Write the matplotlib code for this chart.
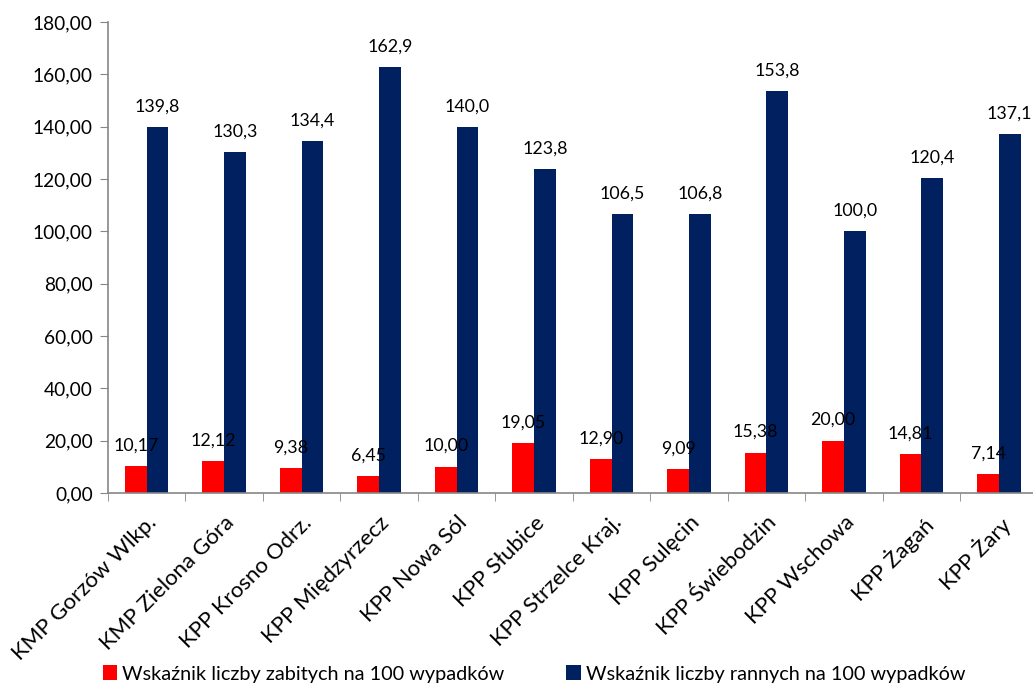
import numpy as np
import matplotlib
matplotlib.use("Agg")
import matplotlib.pyplot as plt

plt.rcParams['font.family'] = ['Lato', 'DejaVu Sans']

# data
komendy = ['KMP Gorzów Wlkp.', 'KMP Zielona Góra', 'KPP Krosno Odrz.', 'KPP Międzyrzecz',
           'KPP Nowa Sól', 'KPP Słubice', 'KPP Strzelce Kraj.', 'KPP Sulęcin',
           'KPP Świebodzin', 'KPP Wschowa', 'KPP Żagań', 'KPP Żary']
zabici = [10.17, 12.12, 9.38, 6.45, 10.00, 19.05, 12.90, 9.09, 15.38, 20.00, 14.81, 7.14]
ranni = [139.8, 130.3, 134.4, 162.9, 140.0, 123.8, 106.5, 106.8, 153.8, 100.0, 120.4, 137.1]
leg_zabici = 'Wskaźnik liczby zabitych na 100 wypadków'
leg_ranni = 'Wskaźnik liczby rannych na 100 wypadków'
yticks = np.arange(0, 181, 20)

RED = '#FF0000'
NAVY = '#002060'
GRAY = '#868686'

fig = plt.figure(figsize=(10.33, 6.95), dpi=100)
ax = fig.add_axes([0.1045, 0.2906, 0.9, 0.6777])

x = np.arange(len(komendy))
w = 0.28
b1 = ax.bar(x - w / 2, zabici, w, color=RED, label=leg_zabici)
b2 = ax.bar(x + w / 2, ranni, w, color=NAVY, label=leg_ranni)

for rect, v in zip(b1, zabici):
    ax.annotate(f'{v:.2f}'.replace('.', ','), (rect.get_x() + rect.get_width() / 2, v),
                xytext=(0, 11.5), textcoords='offset points', ha='center', va='baseline',
                fontsize=12.8, color='black')
for rect, v in zip(b2, ranni):
    ax.annotate(f'{v:.1f}'.replace('.', ','), (rect.get_x() + rect.get_width() / 2, v),
                xytext=(0, 11), textcoords='offset points', ha='center', va='baseline',
                fontsize=12.8, color='black')

ax.set_xlim(-0.5, len(komendy) - 0.5)
ax.set_ylim(0, 180)
ax.set_yticks(yticks)
ax.set_yticklabels([f'{t:.2f}'.replace('.', ',') for t in yticks], fontsize=13.8)

ax.set_xticks(x)
ax.set_xticklabels(komendy, rotation=45, ha='right', rotation_mode='anchor', fontsize=16)
ax.set_xticks(np.arange(-0.5, len(komendy), 1), minor=True)
ax.tick_params(axis='x', which='major', length=0, pad=14)
ax.tick_params(axis='x', which='minor', length=6, color=GRAY, direction='out')
ax.tick_params(axis='y', length=6, color=GRAY, direction='out', pad=5)

for s in ['top', 'right']:
    ax.spines[s].set_visible(False)
for s in ['left', 'bottom']:
    ax.spines[s].set_color(GRAY)
    ax.spines[s].set_linewidth(1.2)

fig.legend(handles=[b1, b2], loc='lower center', bbox_to_anchor=(0.517, -0.008), ncol=2,
           frameon=False, fontsize=14.3, handlelength=0.75, handleheight=0.75,
           handletextpad=0.25, columnspacing=3.1)

fig.savefig('out.png', dpi=100)
